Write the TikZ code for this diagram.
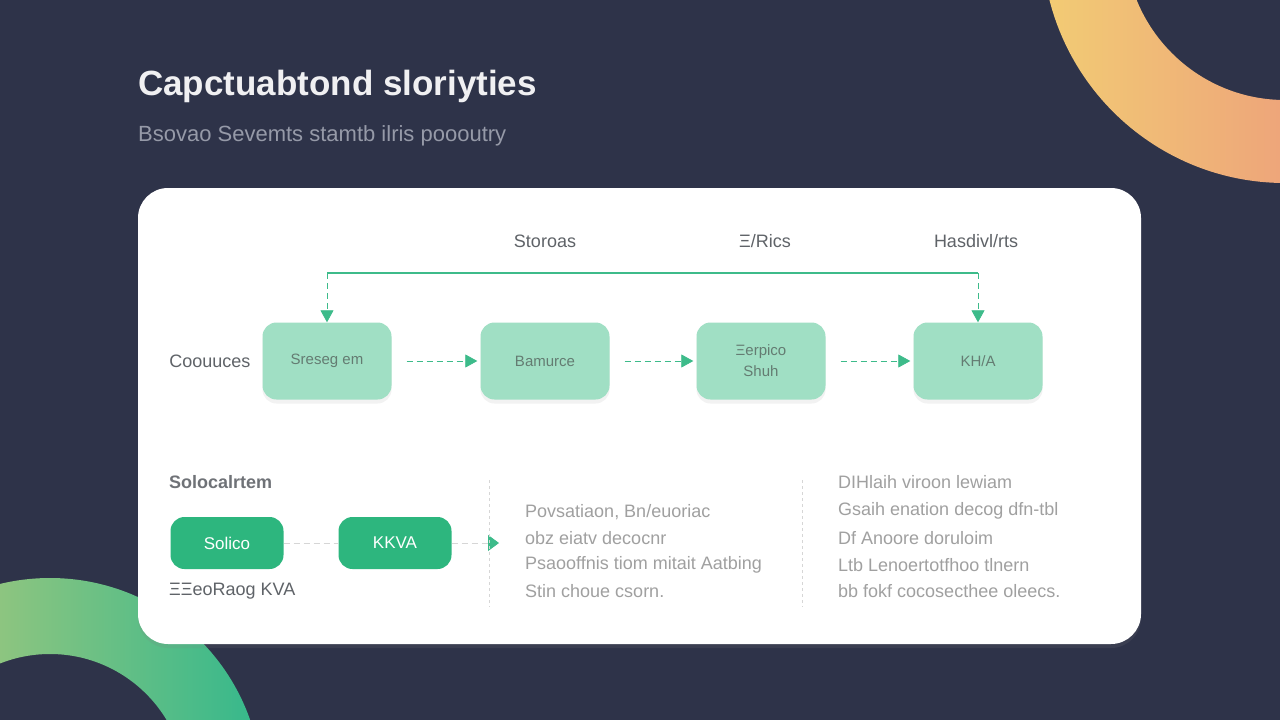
\documentclass[tikz,border=0pt]{standalone}
\usepackage{fontspec}
\setmainfont{Liberation Sans}
\usetikzlibrary{arrows.meta,shadows}

\definecolor{navy}{HTML}{2E3349}
\definecolor{mint}{HTML}{A0DFC4}
\definecolor{jade}{HTML}{2DB67E}
\definecolor{linegreen}{HTML}{3DBB8A}
\definecolor{txtgrey}{HTML}{5F6368}
\definecolor{softgrey}{HTML}{A0A0A0}
\definecolor{sepgrey}{HTML}{D6D6D6}

\tikzset{
  stagebox/.style={rounded corners=14pt, fill=mint, minimum width=129pt, minimum height=77pt,
    text=black!45!mint!70!gray, font=\fontsize{15}{17}\selectfont, align=center,
    drop shadow={opacity=0.10, shadow xshift=0pt, shadow yshift=-4pt}},
  solidbox/.style={rounded corners=14pt, fill=jade, minimum width=113pt, minimum height=52pt,
    text=white, font=\fontsize{17}{19}\selectfont},
  headlabel/.style={text=txtgrey, font=\fontsize{18}{21}\selectfont},
  bodytext/.style={text=softgrey, font=\fontsize{18}{21}\selectfont, anchor=west, inner sep=1pt},
  flowarrow/.style={draw=linegreen, dash pattern=on 6pt off 4pt, line width=0.8pt, -{Triangle[length=12pt,width=13pt]}},
  loopline/.style={draw=linegreen, line width=1.2pt},
}

\begin{document}
\begin{tikzpicture}[x=1pt,y=-1pt]
        \useasboundingbox (0,0) rectangle (1280,720);
        \clip (0,0) rectangle (1280,720);
        \fill[navy] (0,0) rectangle (1280,720);

        % rings in the corners
        \shade[left color={rgb,255:red,242;green,204;blue,116}, right color={rgb,255:red,233;green,126;blue,128}, even odd rule]
            (1285,-60) circle (243) (1285,-60) circle (160);
        \shade[left color={rgb,255:red,196;green,205;blue,120}, right color={rgb,255:red,52;green,184;blue,140}, even odd rule]
            (50,790) circle (212) (50,790) circle (136);

        % title
        \node[anchor=west, inner sep=1pt, text={rgb,255:red,240;green,240;blue,242}, font=\bfseries\fontsize{35}{40}\selectfont] (title) at (137,86) {Capctuabtond sloriyties};
        \node[anchor=west, inner sep=1pt, text={rgb,255:red,150;green,154;blue,168}, font=\fontsize{22}{26}\selectfont] (subtitle) at (137,136) {Bsovao Sevemts stamtb ilris poooutry};

        % card
        \fill[white, rounded corners=30pt, drop shadow={opacity=0.15, shadow xshift=0pt, shadow yshift=-4pt}] (138,188) rectangle (1141,644);

        % top row
        \node[headlabel] (hStor) at (545,241) {Storoas};
        \node[headlabel] (hRics) at (765,241) {Ξ/Rics};
        \node[headlabel] (hHas) at (976,241) {Hasdivl/rts};
        \node[headlabel, anchor=east] (lCoo) at (254,361) {Coouuces};

        \node[stagebox] (sreg) at (327,361) {Sreseg em};
        \node[stagebox] (bam) at (545,361) {Bamurce};
        \node[stagebox] (xerp) at (761,361) {Ξerpico\\[4pt]Shuh};
        \node[stagebox] (kha) at (978,361) {KH/A};

        \draw[flowarrow, shorten <=15pt, shorten >=3pt] (sreg) -- (bam);
        \draw[flowarrow, shorten <=15pt, shorten >=3pt] (bam) -- (xerp);
        \draw[flowarrow, shorten <=15pt, shorten >=3pt] (xerp) -- (kha);

        \coordinate (loopL) at (327,273);
        \coordinate (loopR) at (978,273);
        \draw[loopline] (loopL) -- (loopR);
        \draw[flowarrow] (loopL) -- (sreg.north);
        \draw[flowarrow] (loopR) -- (kha.north);

        % bottom left part
        \node[anchor=west, inner sep=1pt, text=txtgrey!90, font=\bfseries\fontsize{18}{21}\selectfont] (solo) at (168,482) {Solocalrtem};
        \node[solidbox] (solico) at (227,543) {Solico};
        \node[solidbox] (kkva) at (395,543) {KKVA};
        \coordinate (kkvaEnd) at (499,543);
        \draw[sepgrey, dash pattern=on 6pt off 4pt, line width=0.8pt] (solico) -- (kkva);
        \draw[sepgrey, dash pattern=on 6pt off 4pt, line width=0.8pt, -{Triangle[length=11pt,width=16pt,color=linegreen]}] (kkva.east) -- (kkvaEnd);
        \node[anchor=west, inner sep=1pt, text=txtgrey, font=\fontsize{18}{21}\selectfont] (ekva) at (168,591) {ΞΞeoRaog KVA};

        % separators
        \coordinate (sepAtop) at (489,480);
        \coordinate (sepAbot) at (489,607);
        \coordinate (sepBtop) at (802,480);
        \coordinate (sepBbot) at (802,607);
        \draw[sepgrey, dashed, line width=0.7pt] (sepAtop) -- (sepAbot);
        \draw[sepgrey, dashed, line width=0.7pt] (sepBtop) -- (sepBbot);

        % middle column
        \node[bodytext] (m1) at (524,512) {Povsatiaon, Bn/euoriac};
        \node[bodytext] (m2) at (524,538) {obz eiatv decocnr};
        \node[bodytext] (m3) at (524,565) {Psaooffnis tiom mitait Aatbing};
        \node[bodytext] (m4) at (524,591) {Stin choue csorn.};

        % right column
        \node[bodytext] (r1) at (837,482) {DIHlaih viroon lewiam};
        \node[bodytext] (r2) at (837,511) {Gsaih enation decog dfn-tbl};
        \node[bodytext] (r3) at (837,538) {Df Anoore doruloim};
        \node[bodytext] (r4) at (837,565) {Ltb Lenoertotfhoo tlnern};
        \node[bodytext] (r5) at (837,591) {bb fokf cocosecthee oleecs.};
\end{tikzpicture}
\end{document}
